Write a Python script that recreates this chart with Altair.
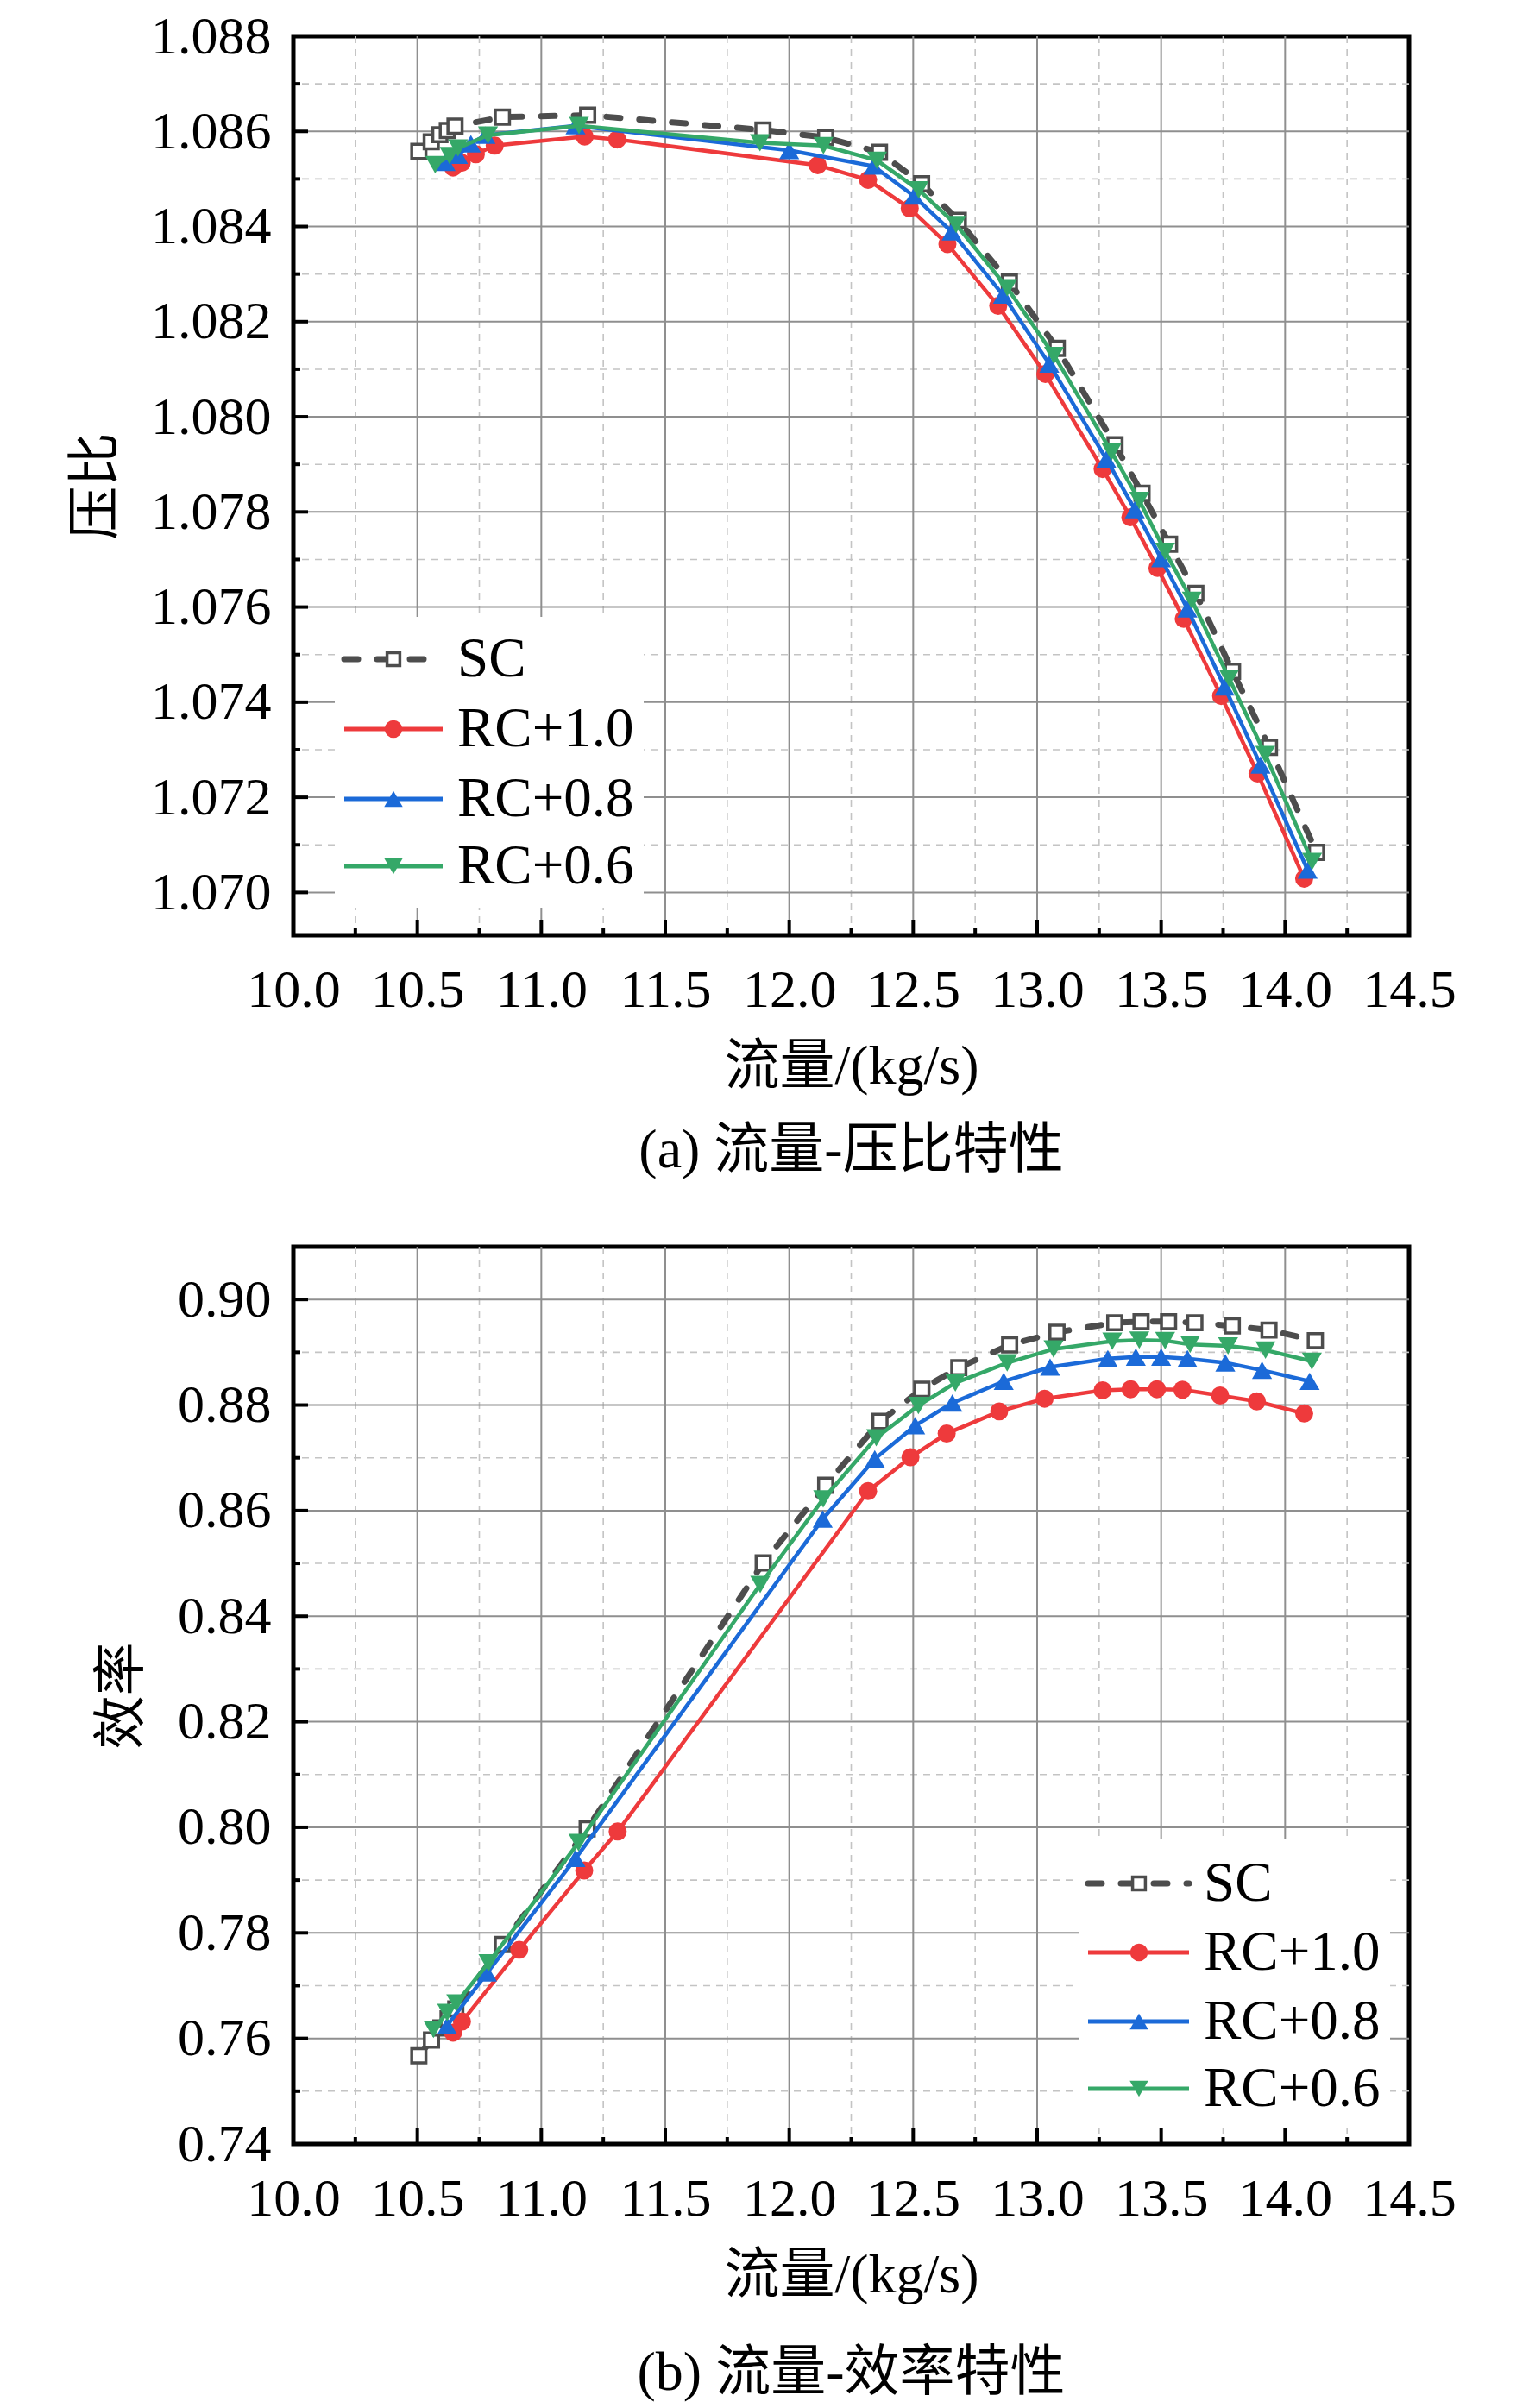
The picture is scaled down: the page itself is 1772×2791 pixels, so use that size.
import altair as alt
import pandas as pd

# ---------------- data ----------------
series_names = ["SC", "RC+1.0", "RC+0.8", "RC+0.6"]
series_colors = ["#4d4d4d", "#EE3A3C", "#1B6AD8", "#35A868"]

# (a) flow - pressure ratio
top_sc_x = [10.506, 10.556, 10.591, 10.621, 10.652, 10.843, 11.187, 11.894, 12.147, 12.364, 12.534,
            12.682, 12.888, 13.081, 13.314, 13.423, 13.534, 13.640, 13.788, 13.937, 14.127]
top_sc_y = [1.08558, 1.08578, 1.08593, 1.08602, 1.08611, 1.08630, 1.08634, 1.08603, 1.08587, 1.08556, 1.08490,
            1.08413, 1.08283, 1.08144, 1.07941, 1.07839, 1.07732, 1.07629, 1.07465, 1.07305, 1.07084]
top_red_x = [10.644, 10.679, 10.736, 10.812, 11.175, 11.306, 12.115, 12.318, 12.486, 12.638, 12.843,
             13.033, 13.264, 13.376, 13.485, 13.591, 13.742, 13.889, 14.077]
top_red_y = [1.08524, 1.08534, 1.08552, 1.08570, 1.08589, 1.08583, 1.08529, 1.08498, 1.08438, 1.08363, 1.08233,
             1.08090, 1.07890, 1.07789, 1.07682, 1.07575, 1.07413, 1.07250, 1.07029]
top_blue_x = [10.614, 10.664, 10.716, 10.775, 11.138, 12.000, 12.340, 12.503, 12.655, 12.862, 13.049,
              13.279, 13.394, 13.500, 13.606, 13.756, 13.901, 14.091]
top_blue_y = [1.08535, 1.08550, 1.08574, 1.08592, 1.08612, 1.08560, 1.08527, 1.08464, 1.08389, 1.08256, 1.08111,
              1.07911, 1.07805, 1.07702, 1.07596, 1.07432, 1.07268, 1.07047]
top_green_x = [10.572, 10.630, 10.664, 10.785, 11.152, 11.882, 12.138, 12.354, 12.522, 12.673, 12.879,
               13.068, 13.300, 13.412, 13.516, 13.624, 13.774, 13.920, 14.109]
top_green_y = [1.08530, 1.08549, 1.08565, 1.08592, 1.08612, 1.08576, 1.08570, 1.08539, 1.08477, 1.08404, 1.08271,
               1.08129, 1.07926, 1.07824, 1.07717, 1.07614, 1.07450, 1.07290, 1.07065]

# (b) flow - efficiency
bot_sc_x = [10.506, 10.557, 10.595, 10.624, 10.655, 10.843, 11.185, 11.895, 12.147, 12.366, 12.535,
            12.684, 12.889, 13.080, 13.313, 13.419, 13.530, 13.636, 13.787, 13.935, 14.122]
bot_sc_y = [0.7567, 0.7597, 0.7620, 0.7637, 0.7656, 0.7778, 0.7997, 0.8501, 0.8648, 0.8769, 0.8830,
            0.8871, 0.8914, 0.8938, 0.8956, 0.8958, 0.8958, 0.8956, 0.8950, 0.8942, 0.8922]
bot_red_x = [10.644, 10.680, 10.911, 11.173, 11.308, 12.318, 12.489, 12.635, 12.847, 13.030, 13.264,
             13.377, 13.483, 13.586, 13.738, 13.886, 14.077]
bot_red_y = [0.7611, 0.7632, 0.7768, 0.7918, 0.7992, 0.8637, 0.8701, 0.8746, 0.8788, 0.8812, 0.8828,
             0.8830, 0.8830, 0.8829, 0.8818, 0.8807, 0.8784]
bot_blue_x = [10.620, 10.781, 11.138, 12.135, 12.345, 12.508, 12.658, 12.865, 13.052, 13.285, 13.398,
              13.500, 13.606, 13.759, 13.907, 14.099]
bot_blue_y = [0.7624, 0.7724, 0.7941, 0.8584, 0.8698, 0.8761, 0.8804, 0.8845, 0.8872, 0.8888, 0.8891,
              0.8891, 0.8888, 0.8880, 0.8866, 0.8845]
bot_green_x = [10.565, 10.620, 10.657, 10.787, 11.150, 11.883, 12.137, 12.351, 12.521, 12.670, 12.879,
               13.066, 13.303, 13.412, 13.516, 13.617, 13.770, 13.921, 14.108]
bot_green_y = [0.7617, 0.7649, 0.7667, 0.7743, 0.7971, 0.8460, 0.8622, 0.8738, 0.8799, 0.8842, 0.8880,
               0.8906, 0.8921, 0.8923, 0.8922, 0.8915, 0.8912, 0.8904, 0.8883]

# ticks
x_major = [10.0, 10.5, 11.0, 11.5, 12.0, 12.5, 13.0, 13.5, 14.0, 14.5]
x_minor = [10.25, 10.75, 11.25, 11.75, 12.25, 12.75, 13.25, 13.75, 14.25]
top_y_major = [1.070, 1.072, 1.074, 1.076, 1.078, 1.080, 1.082, 1.084, 1.086, 1.088]
top_y_minor = [1.071, 1.073, 1.075, 1.077, 1.079, 1.081, 1.083, 1.085, 1.087]
bot_y_major = [0.74, 0.76, 0.78, 0.80, 0.82, 0.84, 0.86, 0.88, 0.90]
bot_y_minor = [0.75, 0.77, 0.79, 0.81, 0.83, 0.85, 0.87, 0.89]

# ---------------- styling ----------------
W = 1293
HT = 1042
HB = 1040
SERIF = "Liberation Serif"
MIXED = "Liberation Serif, Noto Sans CJK SC"
MAJOR_GRID = "#8f8f8f"
MINOR_GRID = "#c4c4c4"


def inside(vals, lo, hi):
    return [v for v in vals if lo + 1e-9 < v < hi - 1e-9]


def make_panel(series, ydomain, ymaj, ymin, yfmt, ytitle, ytitle_x, caption, cap_offset, H,
               box, rows, line_x, marker_x, text_x):
    xscale = alt.Scale(domain=[10.0, 14.5], nice=False, zero=False)
    yscale = alt.Scale(domain=ydomain, nice=False, zero=False)
    xaxis = alt.Axis(values=x_major, format=".1f", title="流量/(kg/s)", grid=False, ticks=False,
                     tickSize=0, domain=False, labelFont=SERIF, labelFontSize=62, labelColor="black",
                     labelPadding=33, labelFlush=False, labelOverlap=False,
                     titleFont=MIXED, titleFontSize=64, titleFontWeight="normal",
                     titleColor="black", titlePadding=26)
    yaxis = alt.Axis(values=ymaj, format=yfmt, title=ytitle, grid=False, ticks=False, tickSize=0,
                     domain=False, labelFont=SERIF, labelFontSize=62, labelColor="black",
                     labelPadding=26, labelFlush=False, labelOverlap=False,
                     titleFont=MIXED, titleFontSize=62, titleFontWeight="normal", titleColor="black",
                     titleX=ytitle_x, titleY=H / 2, titleAlign="center", titleBaseline="middle")
    X = alt.X("x:Q", scale=xscale, axis=xaxis)
    Y = alt.Y("y:Q", scale=yscale, axis=yaxis)

    gx_major = inside(x_major, 10.0, 14.5)
    gy_major = inside(ymaj, ydomain[0], ydomain[1])
    gy_minor = inside(ymin, ydomain[0], ydomain[1])

    layers = []
    # grid
    layers.append(alt.Chart(pd.DataFrame({"x": x_minor})).mark_rule(
        color=MINOR_GRID, strokeWidth=1.6, strokeDash=[8, 7]).encode(x=X))
    layers.append(alt.Chart(pd.DataFrame({"y": gy_minor})).mark_rule(
        color=MINOR_GRID, strokeWidth=1.6, strokeDash=[8, 7]).encode(y=Y))
    layers.append(alt.Chart(pd.DataFrame({"x": gx_major})).mark_rule(
        color=MAJOR_GRID, strokeWidth=2).encode(x=X))
    layers.append(alt.Chart(pd.DataFrame({"y": gy_major})).mark_rule(
        color=MAJOR_GRID, strokeWidth=2).encode(y=Y))
    # inward ticks
    layers.append(alt.Chart(pd.DataFrame({"y": gy_major})).mark_rule(color="black", strokeWidth=4).encode(
        y=Y, x=alt.value(0), x2=alt.value(17)))
    layers.append(alt.Chart(pd.DataFrame({"y": gy_minor})).mark_rule(color="black", strokeWidth=4).encode(
        y=Y, x=alt.value(0), x2=alt.value(8)))
    layers.append(alt.Chart(pd.DataFrame({"x": gx_major})).mark_rule(color="black", strokeWidth=4).encode(
        x=X, y=alt.value(H), y2=alt.value(H - 18)))
    layers.append(alt.Chart(pd.DataFrame({"x": x_minor})).mark_rule(color="black", strokeWidth=4).encode(
        x=X, y=alt.value(H), y2=alt.value(H - 8)))

    # legend background
    layers.append(alt.Chart(pd.DataFrame({"label": ["box"]})).mark_rect(color="white").encode(
        x=alt.value(box[0]), x2=alt.value(box[1]), y=alt.value(box[2]), y2=alt.value(box[3])))

    # data series
    for i, (name, color, xs, ys) in enumerate(series):
        df = pd.DataFrame({"x": xs, "y": ys})
        base = alt.Chart(df)
        if i == 0:
            line = base.mark_line(color=color, strokeWidth=7, strokeDash=[16, 22], strokeCap="round")
            pts = base.mark_square(size=270, fill="white", stroke=color, strokeWidth=3.5, opacity=1)
        elif i == 1:
            line = base.mark_line(color=color, strokeWidth=4.5)
            pts = base.mark_circle(size=440, color=color, opacity=1)
        elif i == 2:
            line = base.mark_line(color=color, strokeWidth=4.5)
            pts = base.mark_point(shape="triangle-up", size=540, filled=True, color=color, opacity=1)
        else:
            line = base.mark_line(color=color, strokeWidth=4.5)
            pts = base.mark_point(shape="triangle-down", size=540, filled=True, color=color, opacity=1)
        layers.append(line.encode(x=X, y=Y))
        layers.append(pts.encode(x=X, y=Y))

    # legend entries
    for i, (name, color, xs, ys) in enumerate(series):
        ldf = pd.DataFrame({"label": [name]})
        lb = alt.Chart(ldf)
        ry = rows[i]
        if i == 0:
            seg = lb.mark_rule(color=color, strokeWidth=7, strokeDash=[16, 22], strokeCap="round")
            sym = lb.mark_square(size=220, fill="white", stroke=color, strokeWidth=3.5, opacity=1)
        elif i == 1:
            seg = lb.mark_rule(color=color, strokeWidth=5)
            sym = lb.mark_circle(size=420, color=color, opacity=1)
        elif i == 2:
            seg = lb.mark_rule(color=color, strokeWidth=5)
            sym = lb.mark_point(shape="triangle-up", size=460, filled=True, color=color, opacity=1)
        else:
            seg = lb.mark_rule(color=color, strokeWidth=5)
            sym = lb.mark_point(shape="triangle-down", size=460, filled=True, color=color, opacity=1)
        layers.append(seg.encode(x=alt.value(line_x[0]), x2=alt.value(line_x[1]), y=alt.value(ry)))
        layers.append(sym.encode(x=alt.value(marker_x), y=alt.value(ry)))
        layers.append(lb.mark_text(align="left", baseline="middle", font=SERIF, fontSize=65,
                                   color="black").encode(
            x=alt.value(text_x), y=alt.value(ry), text=alt.Text("label:N")))

    return alt.layer(*layers).properties(
        width=W, height=H,
        title=alt.TitleParams(caption, orient="bottom", anchor="middle", font=MIXED, fontSize=64,
                              fontWeight="normal", color="black", offset=cap_offset))


top_series = [
    (series_names[0], series_colors[0], top_sc_x, top_sc_y),
    (series_names[1], series_colors[1], top_red_x, top_red_y),
    (series_names[2], series_colors[2], top_blue_x, top_blue_y),
    (series_names[3], series_colors[3], top_green_x, top_green_y),
]
bot_series = [
    (series_names[0], series_colors[0], bot_sc_x, bot_sc_y),
    (series_names[1], series_colors[1], bot_red_x, bot_red_y),
    (series_names[2], series_colors[2], bot_blue_x, bot_blue_y),
    (series_names[3], series_colors[3], bot_green_x, bot_green_y),
]

top = make_panel(top_series, [1.0691, 1.088], top_y_major, top_y_minor, ".3f", "压比", -229,
                 "(a) 流量-压比特性", 34, HT,
                 box=(48, 406, 673, 1010), rows=[722, 803, 884, 962],
                 line_x=(59, 173), marker_x=116, text_x=190)
bottom = make_panel(bot_series, [0.74, 0.91], bot_y_major, bot_y_minor, ".2f", "效率", -199,
                    "(b) 流量-效率特性", 50, HB,
                    box=(911, 1271, 687, 1021), rows=[738, 818, 898, 976],
                    line_x=(921, 1038), marker_x=980, text_x=1055)

chart = alt.vconcat(top, bottom, spacing=361, bounds="flush").configure_view(
    stroke="black", strokeWidth=5
).properties(
    padding={"left": 69, "top": 0, "right": 20, "bottom": 0},
    background="white",
)

chart.save("out.html", embed_options={"renderer": "svg", "actions": False})
